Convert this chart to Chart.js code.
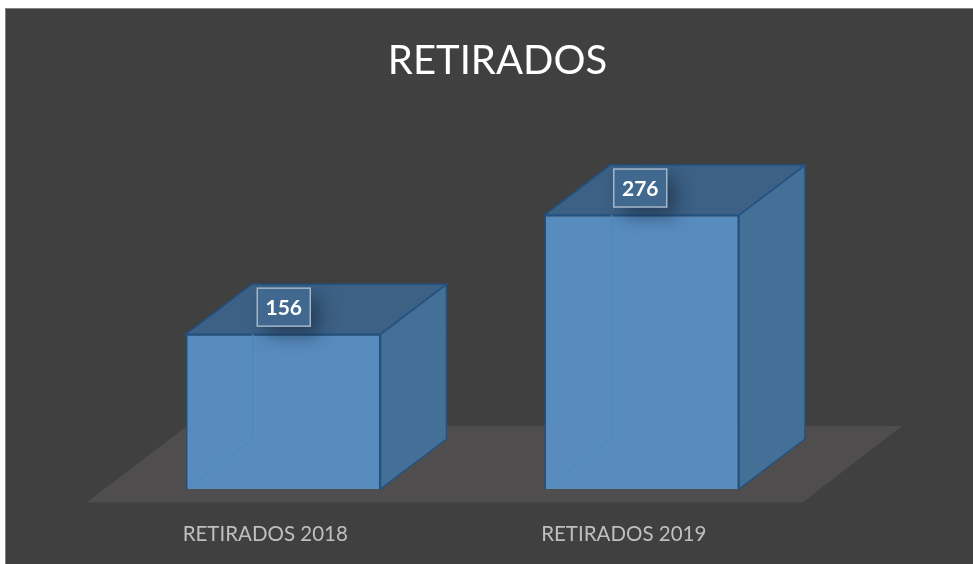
<!DOCTYPE html>
<html>
<head>
<meta charset="utf-8">
<style>
  html, body { margin: 0; padding: 0; background: #fff; }
  #wrap { width: 973px; height: 564px; }
</style>
<script src="https://cdn.jsdelivr.net/npm/chart.js@4"></script>
</head>
<body>
<div id="wrap"><canvas id="chart" width="973" height="564"></canvas></div>
<script>
const categories = ["RETIRADOS 2018", "RETIRADOS 2019"];
const values = [156, 276];
const chartTitle = "RETIRADOS";

// 3D look of the boxes, in pixels
const depthX = 66;
const depthY = 50;
const edge = "#225283";

function poly(ctx, pts, fill, stroke, width) {
  ctx.beginPath();
  pts.forEach((p, i) => (i ? ctx.lineTo(p[0], p[1]) : ctx.moveTo(p[0], p[1])));
  ctx.closePath();
  if (fill) { ctx.fillStyle = fill; ctx.fill(); }
  if (stroke) { ctx.strokeStyle = stroke; ctx.lineWidth = width || 1.5; ctx.stroke(); }
}

// panel and floor behind the bars
const backdrop = {
  id: "backdrop",
  beforeDraw(chart) {
    const { ctx, chartArea: a } = chart;
    ctx.save();
    ctx.fillStyle = "#808080";
    ctx.fillRect(5, 8, chart.width - 5, chart.height - 8);
    ctx.fillStyle = "#404040";
    ctx.fillRect(6, 9, chart.width - 6, chart.height - 9);
    const front = a.bottom + 13.5;
    const back = front - 76.5;
    poly(ctx, [[a.left - 17.5, front], [a.right - 18.5, front], [a.right + 81, back], [a.left + 83, back]], "#4f4d4d");
    ctx.restore();
  }
};

// side and top faces, built from the bars the library placed
const boxFaces = {
  id: "boxFaces",
  beforeDatasetsDraw(chart) {
    const ctx = chart.ctx;
    ctx.save();
    chart.getDatasetMeta(0).data.forEach(bar => {
      const l = bar.x - bar.width / 2, r = bar.x + bar.width / 2;
      const t = bar.y, b = bar.base;
      poly(ctx, [[r, t], [r + depthX, t - depthY], [r + depthX, b - depthY], [r, b]], "#446f97", edge);
      poly(ctx, [[l, t], [l + depthX, t - depthY], [r + depthX, t - depthY], [r, t]], "#3c6185", edge);
    });
    ctx.restore();
  },
  afterDatasetsDraw(chart) {
    const ctx = chart.ctx;
    ctx.save();
    const meta = chart.getDatasetMeta(0);
    meta.data.forEach((bar, i) => {
      const l = bar.x - bar.width / 2, t = bar.y, b = bar.base;
      // back edges seen through the front face
      ctx.strokeStyle = "#5389bd";
      ctx.lineWidth = 1.5;
      ctx.beginPath();
      ctx.moveTo(l + depthX + 1, t);
      ctx.lineTo(l + depthX + 1, b - depthY);
      ctx.lineTo(l + 2, b - 1);
      ctx.stroke();

      // value label with its soft shadow
      const w = 53, h = 38;
      const x = bar.x - w / 2 + (i ? -1.5 : 0.5), y = t - 27 - h / 2;
      ctx.save();
      ctx.beginPath();
      ctx.rect(0, 0, chart.width, chart.height);
      ctx.rect(x, y, w, h);
      ctx.clip("evenodd");
      ctx.shadowColor = "rgba(20,35,55,0.55)";
      ctx.shadowBlur = 18;
      ctx.shadowOffsetX = 9;
      ctx.shadowOffsetY = 9;
      ctx.fillStyle = "#3c6185";
      ctx.fillRect(x, y, w, h);
      ctx.restore();
      ctx.fillStyle = "#41698f";
      ctx.fillRect(x, y, w, h);
      ctx.strokeStyle = "#a3b5c8";
      ctx.lineWidth = 1.5;
      ctx.strokeRect(x, y, w, h);
      ctx.fillStyle = "#ffffff";
      ctx.font = "bold 21px Lato";
      ctx.textAlign = "center";
      ctx.textBaseline = "middle";
      ctx.fillText(String(values[i]), x + w / 2, y + h / 2 + 1);
    });
    ctx.restore();
  }
};

new Chart(document.getElementById("chart"), {
  type: "bar",
  data: {
    labels: categories,
    datasets: [{
      data: values,
      backgroundColor: "#588cbf",
      borderColor: edge,
      borderWidth: 1.5,
      barPercentage: 1,
      categoryPercentage: 0.5425
    }]
  },
  options: {
    responsive: false,
    animation: false,
    layout: { padding: { left: 22, right: 0, top: 37, bottom: 0 } },
    plugins: {
      legend: { display: false },
      tooltip: { enabled: false },
      title: {
        display: true,
        text: chartTitle,
        color: "#ffffff",
        font: { family: "Lato", size: 40, weight: "normal" },
        padding: 0
      }
    },
    scales: {
      x: {
        grid: { display: false, drawTicks: false },
        border: { display: false },
        ticks: { color: "#bfbfbf", font: { family: "Lato", size: 20.5 }, padding: 33, labelOffset: -18, maxRotation: 0 },
        afterFit: s => { s.height = 75; }
      },
      y: {
        min: 0,
        max: 407,
        grid: { display: false },
        border: { display: false },
        ticks: { display: false },
        afterFit: s => { s.width = 82; }
      },
      spacer: {
        position: "right",
        grid: { display: false },
        border: { display: false },
        ticks: { display: false },
        afterFit: s => { s.width = 152; }
      }
    }
  },
  plugins: [backdrop, boxFaces]
});
</script>
</body>
</html>
